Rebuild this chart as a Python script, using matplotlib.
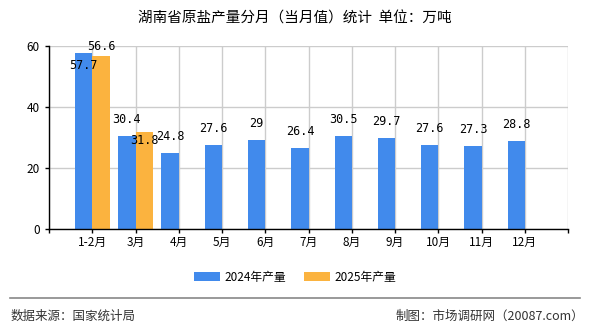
import matplotlib
matplotlib.use('Agg')
import matplotlib.pyplot as plt
import numpy as np

plt.rcParams['font.family'] = ['Noto Sans CJK SC', 'DejaVu Sans']

months = ['1-2月', '3月', '4月', '5月', '6月', '7月', '8月', '9月', '10月', '11月', '12月']
prod_2024 = [57.7, 30.4, 24.8, 27.6, 29, 26.4, 30.5, 29.7, 27.6, 27.3, 28.8]
prod_2025 = [56.6, 31.8]
label_2024 = ['57.7', '30.4', '24.8', '27.6', '29', '26.4', '30.5', '29.7', '27.6', '27.3', '28.8']
label_2025 = ['56.6', '31.8']

blue = '#418AEC'
orange = '#FBB33F'
w = 0.4

fig = plt.figure(figsize=(5.9, 3.3), dpi=100)
ax = fig.add_axes([0.083, 0.306, 0.88, 0.555])

x = np.arange(len(months))
ax.bar(x - w / 2, prod_2024, width=w, color=blue, label='2024年产量', zorder=2)
x2 = np.arange(len(prod_2025))
ax.bar(x2 + w / 2, prod_2025, width=w, color=orange, label='2025年产量', zorder=2)

# value labels, the crowded pair in 1-2月 sits inside the bar
for i, v in enumerate(prod_2024):
    off = -9 if i == 0 else 12
    ax.annotate(label_2024[i], (x[i] - w / 2, v), xytext=(0, off), textcoords='offset points',
                ha='center', va='center', fontsize=8.5, family='DejaVu Sans Mono', zorder=3)
for i, v in enumerate(prod_2025):
    off = 7 if i == 0 else -6
    ax.annotate(label_2025[i], (x2[i] + w / 2, v), xytext=(0, off), textcoords='offset points',
                ha='center', va='center', fontsize=8.5, family='DejaVu Sans Mono', zorder=3)

ax.set_xlim(-1, 11)
ax.set_ylim(0, 60)
ax.set_yticks([0, 20, 40, 60])
ax.set_xticks(np.arange(-1, 12))
ax.set_xticklabels([''] + months + [''])
ax.tick_params(axis='both', labelsize=8.5, length=3, width=1, colors='black')
ax.tick_params(axis='x', pad=2)
ax.grid(True, color='#cccccc', linewidth=1, zorder=0)
ax.set_axisbelow(True)
for s in ['top', 'right']:
    ax.spines[s].set_visible(False)
ax.spines['left'].set_linewidth(1)
ax.spines['bottom'].set_linewidth(1)

fig.text(0.5, 0.945, '湖南省原盐产量分月（当月值）统计  单位：万吨', ha='center', va='center', fontsize=10.5)

fig.legend(loc='center', bbox_to_anchor=(0.5, 0.16), ncol=2, frameon=False, fontsize=8.5,
           handlelength=2.2, handleheight=0.8, columnspacing=1.5, handletextpad=0.4)

fig.add_artist(plt.Line2D([0.017, 0.983], [0.097, 0.097], color='#888888', linewidth=1.2))
fig.text(0.018, 0.042, '数据来源：国家统计局', ha='left', va='center', fontsize=9, color='#333333')
fig.text(0.99, 0.042, '制图：市场调研网（20087.com）', ha='right', va='center', fontsize=9, color='#333333')

fig.savefig('out.png', dpi=100)
